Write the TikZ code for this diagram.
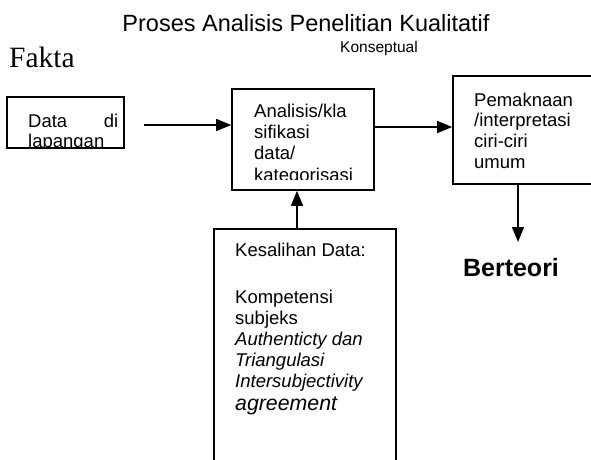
\documentclass[tikz,border=0pt]{standalone}
\usepackage{fontspec}
\setmainfont{Liberation Sans}
\newfontfamily\timesfont{Liberation Serif}
\usetikzlibrary{arrows.meta}

\begin{document}
\begin{tikzpicture}[x=1pt,y=-1pt,
    box/.style={draw,line width=1.6pt,rectangle,inner sep=0pt},
    txt/.style={anchor=north west,inner sep=0pt,align=left,
      font=\fontsize{18.5}{20.8}\selectfont},
    pijl/.style={-{Triangle[length=15pt,width=12pt]},line width=1.4pt}]
    \useasboundingbox (0,0) rectangle (591,459);
    \node[anchor=base,font=\fontsize{23.5}{26}\selectfont] (judul) at (306,31) {Proses Analisis Penelitian Kualitatif};
    \node[anchor=base,font=\fontsize{15.5}{18}\selectfont] (konsep) at (379,52) {Konseptual};
    \node[anchor=base west,inner sep=0pt,font=\timesfont\fontsize{29.5}{32}\selectfont] (fakta) at (9,67) {Fakta};
    \node[box,minimum width=117pt,minimum height=51pt] (data) at (65.5,122.5) {};
    \node[box,minimum width=142pt,minimum height=101pt] (analisis) at (303,139.5) {};
    \node[box,minimum width=147pt,minimum height=108pt] (makna) at (526.5,130) {};
    \node[box,minimum width=182pt,minimum height=246pt] (kesalihan) at (305,352) {};
    \node[anchor=base,font=\fontsize{25}{28}\selectfont\bfseries] (berteori) at (511,276) {Berteori};
    \begin{scope}
      \clip (data.south west) rectangle (data.north east);
      \node[txt] (datatxt) at (28,113.5) {\hbox to 90pt{Data\hfill di}\\lapangan};
    \end{scope}
    \begin{scope}
      \clip (232,89) rectangle (374,179);
      \node[txt,font=\fontsize{18.5}{21.3}\selectfont] (analisistxt) at (254,103.5) {Analisis/kla\\sifikasi\\data/\\kategorisasi};
    \end{scope}
    \node[txt] (maknatxt) at (474,92.5) {Pemaknaan\\/interpretasi\\ciri-ciri\\umum};
    \node[txt,align=left] (kesalihantxt) at (235,242.5) {Kesalihan Data:\\[27pt]Kompetensi\\subjeks\\\textit{Authenticty dan}\\\textit{Triangulasi}\\\textit{Intersubjectivity}\\[3pt]{\fontsize{21.3}{20}\selectfont\itshape agreement}};
    \coordinate (p1) at ([yshift=-2.5pt]data.east);
    \coordinate (p2) at ([yshift=3pt]makna.west);
    \coordinate (p3) at (518,242);
    \coordinate (p4) at ([xshift=-8pt]kesalihan.north);
    \draw[pijl,shorten <=19pt] (p1) -- (p1 -| analisis.west);
    \draw[pijl] (p2 -| analisis.east) -- (p2);
    \draw[pijl] (p3 |- makna.south) -- (p3);
    \draw[pijl] (p4) -- (p4 |- analisis.south);
\end{tikzpicture}
\end{document}
